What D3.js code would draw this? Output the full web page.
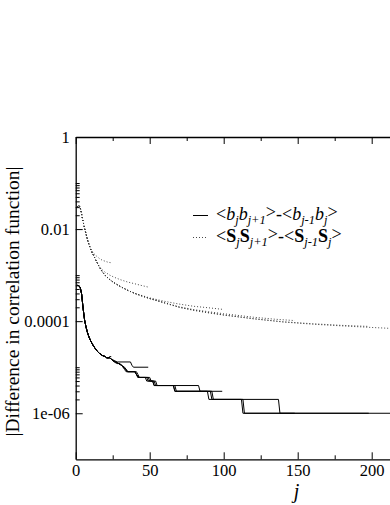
<!DOCTYPE html>
<html><head><meta charset="utf-8">
<script src="https://cdn.jsdelivr.net/npm/d3@7"></script>
<style>
html,body{margin:0;padding:0;background:#fff;}
svg{display:block;}
</style></head>
<body>
<svg id="chart" width="390" height="505"></svg>
<script>
// ---------------- data ----------------
const xMajorTicks = [0, 50, 100, 150, 200];
const xMinorTicks = [25, 75, 125, 175, 225];
const yMajorTicks = [1, 1e-2, 1e-4, 1e-6];
const yMajorLabels = ["1", "0.01", "0.0001", "1e-06"];
const yMinorFactors = [2, 3, 4, 5, 6, 7, 8, 9, 10];

// |<b_j b_j+1> - <b_j-1 b_j>|  (solid) : shared beginning, then per-size tails
const solidHead = [[1,6.0e-4],[2,5.9e-4],[3,5.5e-4],[4,3.9e-4],[5,1.9e-4],[6,1.06e-4],[7,7.4e-5],[8,5.6e-5],[9,4.5e-5],[10,3.8e-5],[11,3.3e-5],[12,2.9e-5],[13,2.6e-5],[14,2.35e-5],[15,2.15e-5],[16,2.0e-5],[17,1.9e-5],[18,1.8e-5],[20,1.7e-5],[21,1.6e-5]];
const solidTailL50  = [[22,1.6e-5],[23,1.7e-5],[24,1.7e-5]];
const solidTailL100 = [[23,1.6e-5],[24,1.5e-5],[26,1.4e-5],[28,1.3e-5],[37,1.3e-5],[38,1.1e-5],[39,1.0e-5],[49,1.0e-5]];
const solidTailL200 = [[23,1.6e-5],[24,1.5e-5],[25,1.4e-5],[27,1.3e-5],[29,1.2e-5],[31,1.1e-5],[32,1.0e-5],[34,9e-6],[35,8e-6],[40,8e-6],[41,7e-6],[42,6e-6],[48,6e-6],[49,5e-6],[52,5e-6],[53,4e-6],[83,4e-6],[84,3e-6],[99,3e-6]];
const solidTailL300 = [[23,1.6e-5],[24,1.5e-5],[25,1.4e-5],[27,1.3e-5],[29,1.2e-5],[31,1.1e-5],[33,1.0e-5],[34,9e-6],[35,8e-6],[41,8e-6],[42,7e-6],[43,6e-6],[50,6e-6],[51,5e-6],[54,5e-6],[55,4e-6],[67,4e-6],[68,3e-6],[92,3e-6],[93,2e-6],[137,2e-6],[138,1e-6],[148,1e-6]];
const solidTailL400 = [[23,1.6e-5],[24,1.5e-5],[25,1.4e-5],[27,1.3e-5],[29,1.2e-5],[31,1.1e-5],[32,1.0e-5],[34,9e-6],[35,8e-6],[40,8e-6],[41,7e-6],[43,6e-6],[49,6e-6],[50,5e-6],[53,5e-6],[54,4e-6],[66,4e-6],[67,3e-6],[91,3e-6],[92,2e-6],[113,2e-6],[114,1e-6],[198,1e-6]];
const solidTailL500 = [[23,1.6e-5],[24,1.5e-5],[25,1.4e-5],[26,1.3e-5],[28,1.2e-5],[30,1.2e-5],[31,1.1e-5],[32,1.0e-5],[33,9e-6],[34,8e-6],[40,8e-6],[41,7e-6],[42,6e-6],[47,6e-6],[48,5e-6],[52,5e-6],[53,4e-6],[66,4e-6],[67,3e-6],[89,3e-6],[90,2e-6],[112,2e-6],[113,1e-6],[249,1e-6]];

// |<S_j S_j+1> - <S_j-1 S_j>|  (dotted)
const dottedHead = [[1,0.030],[2,0.033],[3,0.030],[4,0.021],[5,0.0145],[6,0.0105],[7,0.0078],[8,0.0058],[9,0.0046]];
const dottedTailL50  = [[10,0.0038],[12,0.0030],[14,0.0026],[16,0.0023],[18,0.0021],[20,0.0020],[22,0.0019],[24,0.00186]];
const dottedTailL100 = [[10,0.0037],[11,0.0031],[12,0.0027],[14,0.0020],[16,0.00155],[18,0.00130],[20,0.00115],[23,0.00100],[26,0.00090],[30,0.00080],[35,0.00071],[39,0.00066],[45,0.00059],[49,0.00055]];
const dottedTailL200 = [[10,0.0037],[11,0.0031],[12,0.0027],[14,0.0020],[16,0.00148],[18,0.00118],[20,0.00098],[23,0.00080],[26,0.00068],[30,0.00057],[35,0.00047],[40,0.00040],[50,0.00032],[60,0.00027],[70,0.000235],[80,0.00021],[90,0.000195],[99,0.000181]];
const dottedTailL300 = [[10,0.0037],[11,0.0031],[12,0.0027],[14,0.0020],[16,0.00148],[18,0.00118],[20,0.00098],[23,0.00080],[26,0.00068],[30,0.00057],[35,0.00047],[40,0.00040],[45,0.00035],[50,0.00031],[60,0.00025],[70,0.000205],[80,0.000178],[90,0.000160],[100,0.000145],[120,0.000122],[135,0.000110],[148,0.000103]];
const dottedTailL400 = [[10,0.0037],[11,0.0031],[12,0.0027],[14,0.0020],[16,0.00148],[18,0.00118],[20,0.00098],[23,0.00080],[26,0.00068],[30,0.00057],[35,0.00047],[40,0.00040],[45,0.00035],[50,0.00031],[60,0.00025],[70,0.00020],[80,0.000172],[90,0.000152],[100,0.000136],[120,0.000113],[140,0.000097],[160,0.000088],[180,0.000081],[198,0.000077]];
const dottedTailL500 = [[10,0.0037],[11,0.0031],[12,0.0027],[14,0.0020],[16,0.00148],[18,0.00118],[20,0.00098],[23,0.00080],[26,0.00068],[30,0.00057],[35,0.00047],[40,0.00040],[45,0.00035],[50,0.00031],[60,0.00025],[70,0.00020],[80,0.000172],[90,0.000152],[100,0.000136],[120,0.000113],[140,0.000096],[160,0.000086],[180,0.000079],[200,0.000073],[220,0.000068],[249,0.000065]];

const solidSeries = [solidTailL50, solidTailL100, solidTailL200, solidTailL300, solidTailL400, solidTailL500].map(t => solidHead.concat(t));
const dottedSeries = [dottedTailL50, dottedTailL100, dottedTailL200, dottedTailL300, dottedTailL400, dottedTailL500].map(t => dottedHead.concat(t));

// ---------------- layout ----------------
const FONT = '"Liberation Serif", "Times New Roman", Tinos, serif';
const svg = d3.select("#chart").attr("font-family", FONT);
const plotLeft = 75.7, plotTop = 137, plotBottom = 459.3;
const x = d3.scaleLinear().domain([0, 250]).range([plotLeft, plotLeft + 1.48 * 250]);
const y = d3.scaleLog().domain([1e-7, 1]).range([plotBottom, plotTop]);

const plot = svg.append("g");
const line = d3.line().x(d => x(d[0])).y(d => y(d[1]));

dottedSeries.forEach(s => {
  plot.append("path").attr("d", line(s)).attr("fill", "none")
    .attr("stroke", "#333").attr("stroke-width", 0.9).attr("stroke-dasharray", "1,2");
});
solidSeries.forEach(s => {
  plot.append("path").attr("d", line(s)).attr("fill", "none")
    .attr("stroke", "#000").attr("stroke-width", 1);
});

// ---------------- axes ----------------
function styleAxis(g) {
  g.attr("font-family", FONT);
  g.selectAll("path.domain").attr("stroke", "#000").attr("stroke-width", 1.3);
  g.selectAll(".tick line").attr("stroke", "#000").attr("stroke-width", 1);
  g.selectAll("text").attr("font-family", FONT).attr("fill", "#000");
}
const gxb = svg.append("g").attr("transform", `translate(0,${plotBottom})`)
  .call(d3.axisBottom(x).tickValues(xMajorTicks).tickSize(-7).tickSizeOuter(0).tickPadding(5).tickFormat(d3.format("d")));
gxb.attr("font-size", 16.5);
styleAxis(gxb);
const gxbm = svg.append("g").attr("transform", `translate(0,${plotBottom})`)
  .call(d3.axisBottom(x).tickValues(xMinorTicks).tickSize(-4).tickSizeOuter(0).tickFormat(""));
gxbm.select("path.domain").remove(); styleAxis(gxbm);
const gxt = svg.append("g").attr("transform", `translate(0,${plotTop})`)
  .call(d3.axisTop(x).tickValues(xMajorTicks).tickSize(-7).tickSizeOuter(0).tickFormat(""));
styleAxis(gxt);
const gxtm = svg.append("g").attr("transform", `translate(0,${plotTop})`)
  .call(d3.axisTop(x).tickValues(xMinorTicks).tickSize(-4).tickSizeOuter(0).tickFormat(""));
gxtm.select("path.domain").remove(); styleAxis(gxtm);
const gy = svg.append("g").attr("transform", `translate(${plotLeft},0)`)
  .call(d3.axisLeft(y).tickValues(yMajorTicks).tickSize(-7).tickSizeOuter(0).tickPadding(6)
    .tickFormat((d, i) => yMajorLabels[i]));
gy.attr("font-size", 16.5);
styleAxis(gy);
const yMinor = [];
yMajorTicks.filter(v => v < 1).forEach(m => yMinorFactors.forEach(f => yMinor.push(m * f)));
const gym = svg.append("g").attr("transform", `translate(${plotLeft},0)`)
  .call(d3.axisLeft(y).tickValues(yMinor).tickSize(-4).tickSizeOuter(0).tickFormat(""));
gym.select("path.domain").remove(); styleAxis(gym);

// ---------------- titles ----------------
svg.append("text").attr("x", 296.5).attr("y", 497.5).attr("text-anchor", "middle")
  .attr("font-size", 20).attr("font-style", "italic").text("j");
svg.append("text").attr("transform", "translate(18.5,301.5) rotate(-90)")
  .attr("text-anchor", "middle").attr("font-size", 19.5).text("|Difference in correlation function|");

// ---------------- legend ----------------
const leg = svg.append("g");
leg.append("line").attr("x1", 193).attr("x2", 208).attr("y1", 215.5).attr("y2", 215.5)
  .attr("stroke", "#000").attr("stroke-width", 1);
leg.append("line").attr("x1", 193).attr("x2", 208).attr("y1", 237.5).attr("y2", 237.5)
  .attr("stroke", "#333").attr("stroke-width", 0.9).attr("stroke-dasharray", "1,2");

function legendText(yb, sym, weight, style) {
  const t = leg.append("text").attr("x", 216).attr("y", yb).attr("font-size", 18);
  const parts = [
    ["<", null, 0], [sym, "main", 0], ["j", "sub", 0], [sym, "main", 0], ["j+1", "sub", 0], [">", null, -2],
    ["-", null, 0], ["<", null, 0], [sym, "main", 0], ["j-1", "sub", 0], [sym, "main", 0], ["j", "sub", 0], [">", null, -2]
  ];
  let cur = 0;
  parts.forEach(p => {
    const target = p[1] === "sub" ? 4 : p[2];
    const sp = t.append("tspan").attr("dy", target - cur).text(p[0]);
    cur = target;
    if (p[1] === "main") { sp.attr("font-weight", weight).attr("font-style", style); }
    if (p[1] === "sub") { sp.attr("font-size", 12.5).attr("font-style", "italic"); }
  });
}
legendText(220, "b", "normal", "italic");
legendText(242, "S", "bold", "normal");
</script>
</body></html>
